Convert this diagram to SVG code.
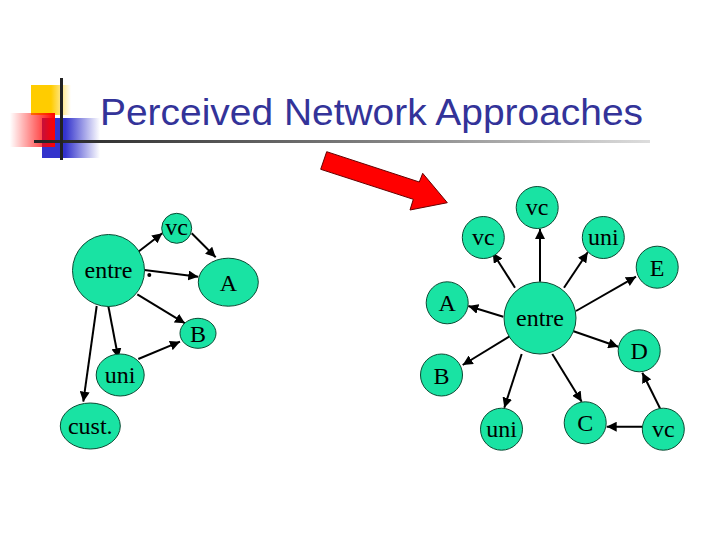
<svg xmlns="http://www.w3.org/2000/svg" width="720" height="540" viewBox="0 0 720 540">
<style>
.n{fill:#19e3a3;stroke:#0b4a33;stroke-width:1}
.t{font-family:"Liberation Serif",serif;font-size:24px;fill:#000;text-anchor:middle}
.c{stroke:#000;stroke-width:2;fill:none;marker-end:url(#ah)}
</style>
<defs>
<marker id="ah" viewBox="0 0 10 10" refX="10" refY="5" markerWidth="5" markerHeight="5" orient="auto" markerUnits="strokeWidth"><path d="M0,0L10,5L0,10z" fill="#000"/></marker>
<linearGradient id="gy" x1="0" x2="1"><stop offset="0.5" stop-color="#ffcc00"/><stop offset="1" stop-color="#ffcc00" stop-opacity="0"/></linearGradient>
<linearGradient id="gb" x1="0" x2="1"><stop offset="0.4" stop-color="#3333cc"/><stop offset="1" stop-color="#3333cc" stop-opacity="0"/></linearGradient>
<linearGradient id="gr" x1="0" x2="1"><stop offset="0" stop-color="#ff0000" stop-opacity="0"/><stop offset="1" stop-color="#ff0000"/></linearGradient>
<linearGradient id="gl" x1="0" x2="1"><stop offset="0" stop-color="#222"/><stop offset="0.6" stop-color="#888"/><stop offset="1" stop-color="#ddd"/></linearGradient>
</defs>
<g id="decor">
<rect x="31" y="85" width="40" height="30" fill="url(#gy)"/>
<rect x="42" y="118" width="58" height="40" fill="url(#gb)"/>
<rect x="10" y="113" width="45" height="34" fill="url(#gr)"/>
<rect x="34" y="140" width="616" height="3" fill="url(#gl)"/>
<rect x="60" y="78" width="3" height="82" fill="#222"/>
</g>
<text id="title" x="100" y="125" font-family="Liberation Sans,Arial,sans-serif" font-size="36" fill="#333399" textLength="543" lengthAdjust="spacingAndGlyphs">Perceived Network Approaches</text>
<polygon id="bigarrow" points="326.7,151.7 419.3,182 422.7,173.3 447.3,202.7 410,210 413.3,199.3 320.7,169.3" fill="#ff0000" stroke="#600" stroke-width="1"/>
<g id="connectors">
<line class="c" x1="138.3" y1="251.7" x2="162.3" y2="233.3"/>
<line class="c" x1="191.7" y1="233.3" x2="215.7" y2="257.3"/>
<line class="c" x1="144.3" y1="270" x2="198.3" y2="276.7"/>
<circle cx="149.3" cy="275" r="2" fill="#000"/>
<line class="c" x1="137.3" y1="294.3" x2="185" y2="323.3"/>
<line class="c" x1="138.3" y1="359" x2="180" y2="341.7"/>
<line class="c" x1="108.3" y1="306" x2="118.3" y2="358.3"/>
<line class="c" x1="96.7" y1="306" x2="83.3" y2="401.7"/>
<line class="c" x1="515" y1="287.7" x2="492.7" y2="252.7"/>
<line class="c" x1="540" y1="281.7" x2="540" y2="229"/>
<line class="c" x1="564" y1="287.7" x2="587.7" y2="252.3"/>
<line class="c" x1="576" y1="311" x2="636" y2="276.7"/>
<line class="c" x1="503.3" y1="316.7" x2="468.3" y2="306"/>
<line class="c" x1="570" y1="330" x2="618.3" y2="346.7"/>
<line class="c" x1="510" y1="336" x2="462.7" y2="365"/>
<line class="c" x1="521.7" y1="354" x2="504.3" y2="407.7"/>
<line class="c" x1="552.3" y1="354" x2="581.7" y2="401.7"/>
<line class="c" x1="660" y1="408.3" x2="642.3" y2="372.7"/>
<line class="c" x1="642.3" y1="426.7" x2="606.7" y2="426.7"/>
</g>
<g id="L_vc"><circle class="n" cx="176.7" cy="228.3" r="15"/><text class="t" x="176.7" y="235">vc</text></g>
<g id="L_entre"><circle class="n" cx="108.5" cy="270.5" r="36"/><text class="t" x="108.5" y="278">entre</text></g>
<g id="L_A"><ellipse class="n" cx="228.3" cy="282.2" rx="30" ry="24"/><text class="t" x="228.3" y="291">A</text></g>
<g id="L_B"><ellipse class="n" cx="198" cy="333.3" rx="18" ry="15"/><text class="t" x="198" y="342">B</text></g>
<g id="L_uni"><ellipse class="n" cx="120.2" cy="375" rx="24" ry="21"/><text class="t" x="120.2" y="383">uni</text></g>
<g id="L_cust"><ellipse class="n" cx="90.3" cy="426" rx="30" ry="23"/><text class="t" x="90.3" y="434">cust.</text></g>
<g id="R_vc1"><circle class="n" cx="537.2" cy="207.5" r="21"/><text class="t" x="537.2" y="215">vc</text></g>
<g id="R_vc2"><circle class="n" cx="483.3" cy="237.5" r="21"/><text class="t" x="483.3" y="245">vc</text></g>
<g id="R_uni1"><circle class="n" cx="603.3" cy="237.5" r="21"/><text class="t" x="603.3" y="245">uni</text></g>
<g id="R_E"><circle class="n" cx="657.2" cy="267.2" r="21"/><text class="t" x="657.2" y="276">E</text></g>
<g id="R_A"><circle class="n" cx="447.2" cy="302.8" r="21"/><text class="t" x="447.2" y="311">A</text></g>
<g id="R_entre"><circle class="n" cx="540" cy="318" r="36"/><text class="t" x="540" y="326">entre</text></g>
<g id="R_D"><circle class="n" cx="639.2" cy="350.8" r="21"/><text class="t" x="639.2" y="359">D</text></g>
<g id="R_B"><circle class="n" cx="441.5" cy="375" r="21"/><text class="t" x="441.5" y="384">B</text></g>
<g id="R_uni2"><circle class="n" cx="501.5" cy="429.2" r="21"/><text class="t" x="501.5" y="437">uni</text></g>
<g id="R_C"><circle class="n" cx="585.2" cy="422.8" r="21"/><text class="t" x="585.2" y="431">C</text></g>
<g id="R_vc3"><circle class="n" cx="663.3" cy="429.2" r="21"/><text class="t" x="663.3" y="437">vc</text></g>
</svg>
